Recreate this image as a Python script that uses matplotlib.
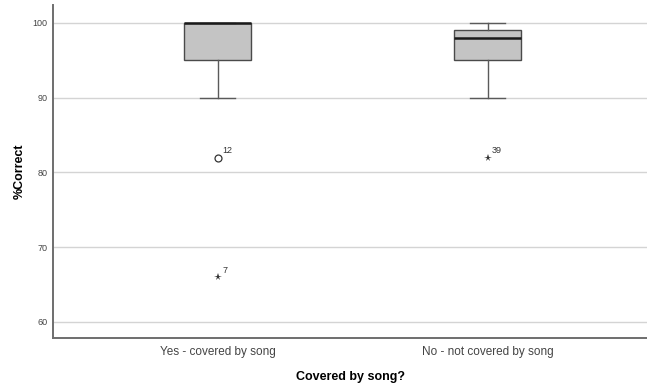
import matplotlib
matplotlib.use("Agg")
import matplotlib.pyplot as plt

plt.rcParams["font.family"] = ["Liberation Sans", "DejaVu Sans"]

categories = ["Yes - covered by song", "No - not covered by song"]
whisker_low = [90, 90]
q1 = [95, 95]
median = [100, 98]
q3 = [100, 99]
whisker_high = [100, 100]

# outliers: (category index, value, case label, marker)
outlier_cat = [0, 0, 1]
outlier_val = [82, 66, 82]
outlier_lbl = ["12", "7", "39"]
outlier_kind = ["o", "*", "*"]

yticks = [60, 70, 80, 90, 100]

fig = plt.figure(figsize=(6.47, 3.85), dpi=100)
ax = fig.add_axes([0.082, 0.122, 0.918, 0.865])

stats = []
for i in range(len(categories)):
    stats.append({
        "whislo": whisker_low[i], "q1": q1[i], "med": median[i],
        "q3": q3[i], "whishi": whisker_high[i], "fliers": [],
    })

ax.bxp(stats, positions=range(len(categories)), widths=0.248,
       patch_artist=True, showfliers=False,
       boxprops=dict(facecolor="#c4c4c4", edgecolor="#4a4a4a", linewidth=1.0),
       medianprops=dict(color="#1a1a1a", linewidth=1.8),
       whiskerprops=dict(color="#5a5a5a", linewidth=1.0),
       capprops=dict(color="#5a5a5a", linewidth=1.0),
       capwidths=0.13, zorder=3)

for c, v, lbl, k in zip(outlier_cat, outlier_val, outlier_lbl, outlier_kind):
    if k == "o":
        ax.plot(c, v, marker="o", ms=5, mfc="white", mec="#333333", mew=0.9, zorder=4)
    else:
        ax.plot(c, v, marker="*", ms=5.5, color="#333333", mew=0, zorder=4)
    ax.annotate(lbl, (c, v), xytext=(3, 3), textcoords="offset points",
                fontsize=6.5, color="#333333")

ax.set_xlim(-0.611, 1.59)
ax.set_ylim(57.85, 102.4)
ax.set_yticks(yticks)
ax.set_xticks(range(len(categories)))
ax.set_xticklabels(categories, fontsize=8.5, color="#444444")
ax.tick_params(axis="y", length=0, labelsize=6.5, labelcolor="#444444", pad=4)
ax.tick_params(axis="x", length=0, pad=6)
ax.grid(axis="y", color="#d4d4d4", linewidth=1.0, zorder=0)
ax.set_axisbelow(True)

for s in ["top", "right"]:
    ax.spines[s].set_visible(False)
for s in ["left", "bottom"]:
    ax.spines[s].set_color("#6e6e6e")
    ax.spines[s].set_linewidth(1.4)

ax.set_ylabel("%Correct", fontsize=9, fontweight="bold", labelpad=5)
ax.set_xlabel("Covered by song?", fontsize=9, fontweight="bold", labelpad=9)

fig.savefig("out.png", dpi=100)
